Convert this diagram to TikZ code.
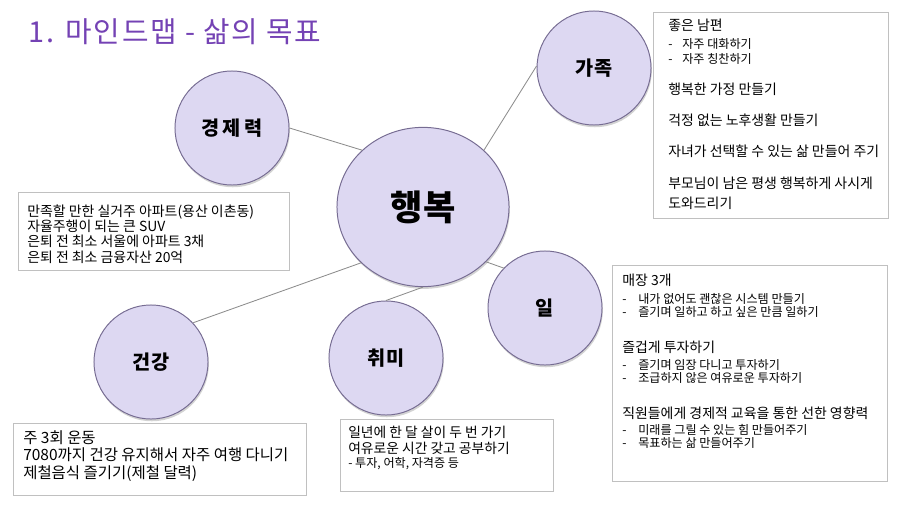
\documentclass[tikz,border=0pt]{standalone}
\usepackage{fontspec}
\setmainfont{Noto Sans CJK KR}
\usetikzlibrary{shapes.geometric,shadows}
\definecolor{bubblefill}{RGB}{221,216,242}
\definecolor{bubbleline}{RGB}{118,108,146}
\definecolor{boxline}{RGB}{192,192,192}
\definecolor{linkgray}{RGB}{140,140,140}
\definecolor{titlepurple}{RGB}{116,66,180}
\newcommand{\subfont}{\fontsize{8.6}{9}\selectfont}
\newcommand{\famdash}{\makebox[10pt][l]{-}}
\newcommand{\workdash}{\makebox[11.4pt][l]{-}}

\begin{document}
\begin{tikzpicture}[x=0.025cm,y=-0.025cm,
    bubble/.style={circle,draw=bubbleline,fill=bubblefill,line width=0.7pt,inner sep=0pt,
      minimum size=2.85cm,font=\fontsize{14}{16}\selectfont\bfseries,
      drop shadow={shadow xshift=0.6pt,shadow yshift=-1.6pt,opacity=0.35}},
    goalbox/.style={draw=boxline,line width=0.6pt},
    goaltext/.style={anchor=north west,inner sep=0pt,align=left},
    link/.style={draw=linkgray,line width=0.6pt}]
  \useasboundingbox (0,0) rectangle (912,513);

  \node[anchor=west,text=titlepurple,font=\fontsize{20.5}{24}\selectfont\addfontfeatures{LetterSpace=6}] (title) at (24,32) {1. 마인드맵 - 삶의 목표};

  \node[bubble,ellipse,minimum width=4.3cm,minimum height=3.98cm,font=\fontsize{25}{28}\selectfont\bfseries] (happy) at (423,207) {행복};
  \node[bubble,font=\fontsize{14}{16}\selectfont\bfseries\addfontfeatures{LetterSpace=18}] (wealth) at (232,128) {경제력};
  \node[bubble] (family) at (594,68) {가족};
  \node[bubble] (work) at (545,308) {일};
  \node[bubble] (hobby) at (386,358) {취미};
  \node[bubble] (health) at (151,362) {건강};

  \draw[link] (happy.137) -- (wealth.0);
  \draw[link] (happy.43) -- (family.178);
  \draw[link] (happy.-41) -- (work.136);
  \draw[link] (happy.-90) -- (hobby.90);
  \draw[link] (happy.222) -- (health.43);

  \draw[goalbox] (653,12) rectangle (888,218);
  \node[goaltext,font=\fontsize{9.9}{11}\selectfont] (familytext) at (668,18.6) {좋은 남편\\[1.8pt]
    {\subfont\famdash 자주 대화하기}\\[-0.3pt]
    {\subfont\famdash 자주 칭찬하기}\\[11pt]
    행복한 가정 만들기\\[11pt]
    걱정 없는 노후생활 만들기\\[11.5pt]
    자녀가 선택할 수 있는 삶 만들어 주기\\[11.5pt]
    부모님이 남은 평생 행복하게 사시게\\[2.8pt]
    도와드리기};

  \draw[goalbox] (612,265) rectangle (887,481);
  \node[goaltext,font=\fontsize{9.9}{11}\selectfont] (worktext) at (622,273.6) {매장 3개\\[1.6pt]
    {\subfont\workdash 내가 없어도 괜찮은 시스템 만들기}\\[-1.4pt]
    {\subfont\workdash 즐기며 일하고 하고 싶은 만큼 일하기}\\[14.4pt]
    즐겁게 투자하기\\[1pt]
    {\subfont\workdash 즐기며 임장 다니고 투자하기}\\[-1.4pt]
    {\subfont\workdash 조급하지 않은 여유로운 투자하기}\\[14.4pt]
    직원들에게 경제적 교육을 통한 선한 영향력\\[0.2pt]
    {\subfont\workdash 미래를 그릴 수 있는 힘 만들어주기}\\[-1.4pt]
    {\subfont\workdash 목표하는 삶 만들어주기}};

  \draw[goalbox] (18,192) rectangle (289,270);
  \node[goaltext,font=\fontsize{9.9}{11}\selectfont] (wealthtext) at (27,204.2) {만족할 만한 실거주 아파트(용산 이촌동)\\[-0.1pt]
    자율주행이 되는 큰 SUV\\[-0.1pt]
    은퇴 전 최소 서울에 아파트 3채\\[-0.1pt]
    은퇴 전 최소 금융자산 20억};

  \draw[goalbox] (13,423) rectangle (306,495);
  \node[goaltext,font=\fontsize{11}{12.4}\selectfont] (healthtext) at (23,430.4) {주 3회 운동\\
    7080까지 건강 유지해서 자주 여행 다니기\\
    제철음식 즐기기(제철 달력)};

  \draw[goalbox] (340,419) rectangle (553,491);
  \node[goaltext,font=\fontsize{9.8}{10.7}\selectfont] (hobbytext) at (348,426.3) {일년에 한 달 살이 두 번 가기\\
    여유로운 시간 갖고 공부하기\\[-0.7pt]
    {\fontsize{8.6}{9}\selectfont - 투자, 어학, 자격증 등}};
\end{tikzpicture}
\end{document}
